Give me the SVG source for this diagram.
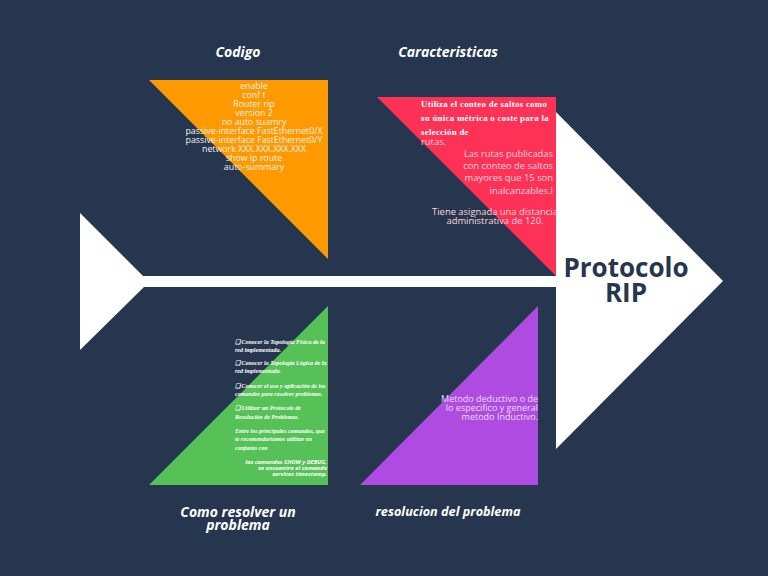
<svg xmlns="http://www.w3.org/2000/svg" width="768" height="576" viewBox="0 0 768 576">
<style>
.title{font-family:"Open Sans","Liberation Sans",sans-serif;font-weight:bold;font-style:italic;fill:#ffffff;text-anchor:middle}
.code{font-family:"Open Sans","Liberation Sans",sans-serif;font-size:8.8px;fill:#f6f2ec;text-anchor:middle}
.ser{font-family:"Liberation Serif","DejaVu Serif",serif;font-size:8.8px;font-weight:bold;fill:#ffffff;letter-spacing:0.3px}
.pk{font-family:"Open Sans","Liberation Sans",sans-serif;font-size:9.4px;fill:#ffd6de}
.gs{font-family:"Liberation Serif","DejaVu Serif",serif;font-size:6px;font-style:italic;font-weight:bold;fill:#ffffff}
.gb{font-family:"Open Sans","Liberation Sans",sans-serif;font-size:5.8px;font-style:italic;font-weight:bold;fill:#ffffff;text-anchor:end}
.pu{font-family:"Open Sans","Liberation Sans",sans-serif;font-size:9px;fill:#eadcf7;text-anchor:end}
</style>
<rect width="768" height="576" fill="#27364f"/>
<g id="connectors">
<rect x="140" y="276" width="417" height="11" fill="#ffffff"/>
</g>
<g id="tail">
<polygon points="80,213 144,277 144,287 80,350" fill="#ffffff"/>
</g>
<g id="head">
<polygon points="556,112 723,281 556,449" fill="#ffffff"/>
<text x="626" y="277" font-family="'Open Sans','Liberation Sans',sans-serif" font-weight="bold" font-size="26" fill="#27364f" text-anchor="middle">Protocolo</text>
<text x="626" y="302" font-family="'Open Sans','Liberation Sans',sans-serif" font-weight="bold" font-size="26" fill="#27364f" text-anchor="middle">RIP</text>
</g>
<g id="codigo">
<polygon points="149,80 328,80 328,259" fill="#ff9900"/>
<text class="title" x="238" y="57" font-size="14">Codigo</text>
<text class="code" x="254" y="89">enable</text>
<text class="code" x="254" y="98">conf t</text>
<text class="code" x="254" y="107">Router rip</text>
<text class="code" x="254" y="116">version 2</text>
<text class="code" x="254" y="125">no auto suamry</text>
<text class="code" x="254" y="134">passive-interface FastEthernet0/X</text>
<text class="code" x="254" y="143">passive-interface FastEthernet0/Y</text>
<text class="code" x="254" y="152">network XXX.XXX.XXX.XXX</text>
<text class="code" x="254" y="161">show ip route</text>
<text class="code" x="254" y="170">auto-summary</text>
</g>
<g id="caracteristicas">
<polygon points="377,97 556,97 556,276" fill="#fe3157"/>
<text class="title" x="448" y="57" font-size="14">Caracteristicas</text>
<text class="ser" x="421" y="107">Utiliza el conteo de saltos como</text>
<text class="ser" x="421" y="121">su única métrica o coste para la</text>
<text class="ser" x="421" y="135">selección de</text>
<text class="pk" x="421" y="145" fill="#ffe4ea">rutas.</text>
<text class="pk" x="553" y="157" text-anchor="end">Las rutas publicadas</text>
<text class="pk" x="553" y="169" text-anchor="end">con conteo de saltos</text>
<text class="pk" x="553" y="181" text-anchor="end">mayores que 15 son</text>
<text class="pk" x="553" y="194" text-anchor="end">inalcanzables.l</text>
<text class="pk" x="495" y="215" text-anchor="middle" fill="#e4e8ef">Tiene asignada una distancia</text>
<text class="pk" x="495" y="224" text-anchor="middle" fill="#e4e8ef">administrativa de 120.</text>
</g>
<g id="resolver">
<polygon points="328,306 328,485 149,485" fill="#56c157"/>
<text class="title" x="238" y="517" font-size="14">Como resolver un</text>
<text class="title" x="238" y="530" font-size="14">problema</text>
<text class="gs" x="235" y="344">❏ Conocer la Topología Física de la</text>
<text class="gs" x="235" y="352">red implementada.</text>
<text class="gs" x="235" y="365">❏ Conocer la Topología Lógica de la</text>
<text class="gs" x="235" y="373">red implementada.</text>
<text class="gs" x="235" y="388">❏ Conocer el uso y aplicación de los</text>
<text class="gs" x="235" y="396">comandos para resolver problemas.</text>
<text class="gs" x="235" y="410">❏ Utilizar un Protocolo de</text>
<text class="gs" x="235" y="419">Resolución de Problemas.</text>
<text class="gs" x="235" y="433">Entre los principales comandos, que</text>
<text class="gs" x="235" y="441">te recomendaríamos utilizar en</text>
<text class="gs" x="235" y="450">conjunto con</text>
<text class="gb" x="327" y="464">los comandos SHOW y DEBUG,</text>
<text class="gb" x="327" y="470">se encuentra el comanda</text>
<text class="gb" x="327" y="476">services timestamp.</text>
</g>
<g id="resolucion">
<polygon points="538,306 538,485 360,485" fill="#ae4ce2"/>
<text class="title" x="448" y="516" font-size="12.7">resolucion del problema</text>
<text class="pu" x="538" y="402">Metodo deductivo o de</text>
<text class="pu" x="538" y="411">lo especifico y general</text>
<text class="pu" x="538" y="420">metodo Inductivo.</text>
</g>
</svg>
